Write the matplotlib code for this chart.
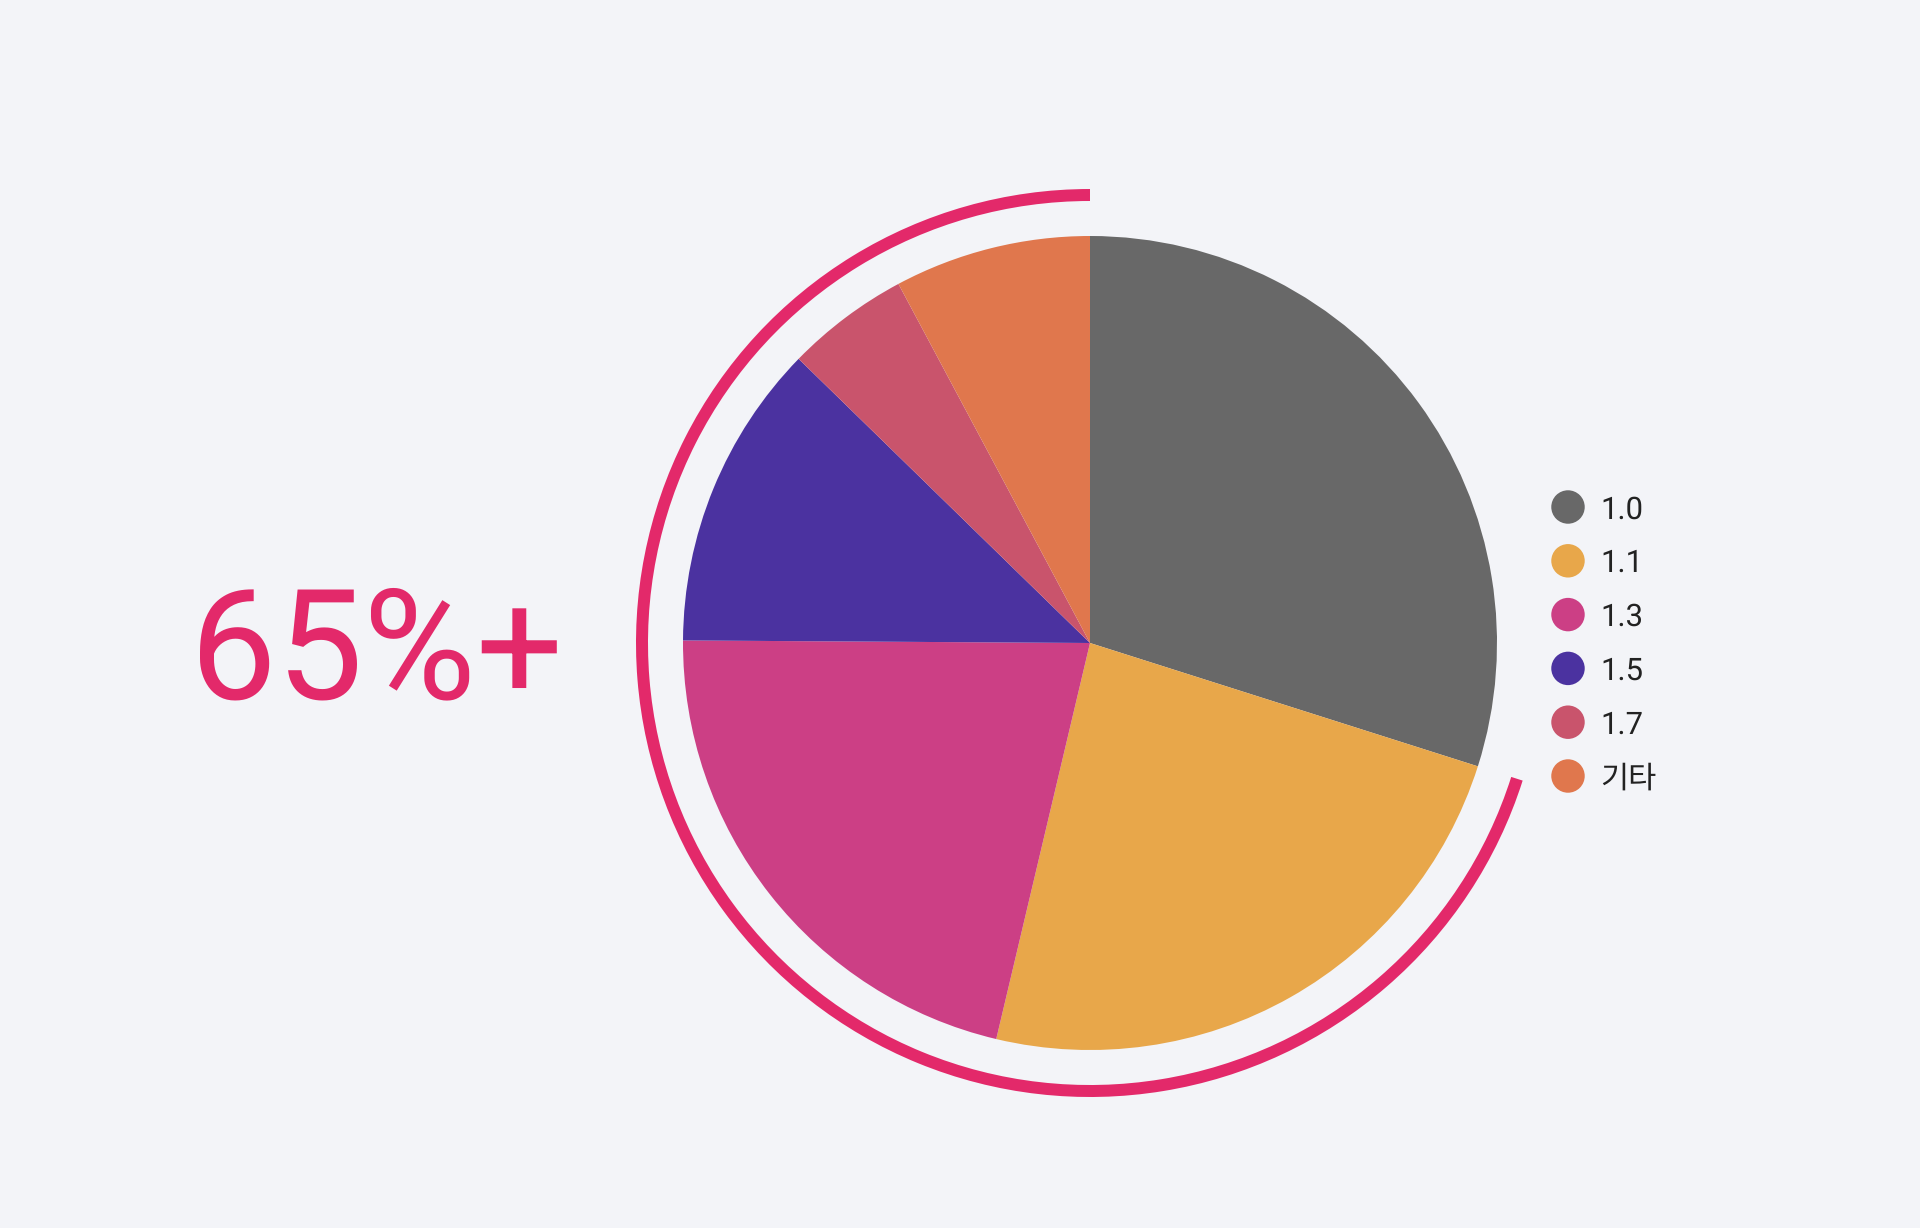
import matplotlib.pyplot as plt
from matplotlib.patches import Wedge

plt.rcParams["text.hinting"] = "no_hinting"
plt.rcParams["text.hinting_factor"] = 1

# Данные
labels = ["1.0", "1.1", "1.3", "1.5", "1.7", "기타"]
shares = [29.9, 23.8, 21.4, 12.2, 4.9, 7.8]
colors = ["#686868", "#E8A74A", "#CC3F85", "#4B32A0", "#C9546C", "#E0774D"]
headline = "65%+"

bg = "#F3F4F8"
accent = "#E3296A"
fonts = ["Roboto", "Noto Sans CJK KR"]

fig = plt.figure(figsize=(19.2, 12.28), dpi=100, facecolor=bg)
ax = fig.add_axes([0, 0, 1, 1])
ax.set_facecolor(bg)

cx, cy, r = 1090, 1228 - 643, 407

# Круговая диаграмма
ax.pie(shares, colors=colors, startangle=90, counterclock=False,
       center=(cx, cy), radius=r, frame=True,
       wedgeprops=dict(linewidth=0))
ax.set_xlim(0, 1920)
ax.set_ylim(0, 1228)
ax.set_aspect("equal")
ax.axis("off")

# Дуга вокруг всех срезов, кроме первого
end_angle = 90 - shares[0] / sum(shares) * 360
ax.add_patch(Wedge((cx, cy), 454, 90, end_angle + 360, width=12,
                   facecolor=accent, edgecolor="none"))

# Крупная подпись
ax.text(377, 1228 - 698, headline, color=accent, fontsize=111,
        family=fonts, ha="center", va="baseline")

# Легенда
for i, (lab, col) in enumerate(zip(labels, colors)):
    y = 1228 - (507 + i * 53.8)
    ax.scatter([1568], [y], s=580, color=col, edgecolors="none")
    ax.text(1600, y - 11.5, lab, fontsize=22, color="#222222",
            family=fonts, va="baseline", ha="left")

plt.savefig("out.png", dpi=100, facecolor=bg)
